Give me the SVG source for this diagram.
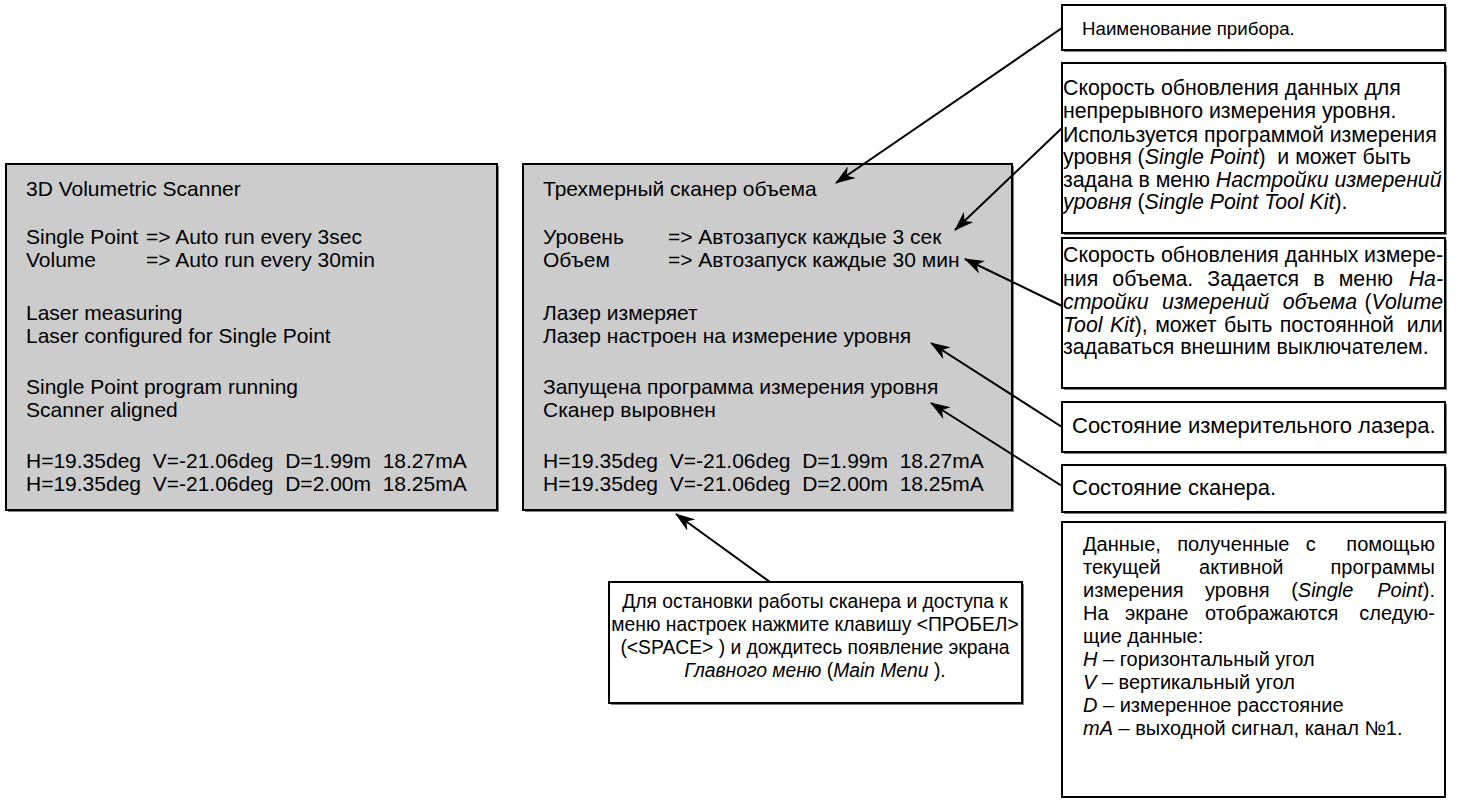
<svg xmlns="http://www.w3.org/2000/svg" width="1459" height="805" viewBox="0 0 1459 805">
<defs>
<style>
text{font-family:"Liberation Sans",Arial,sans-serif;fill:#000;}
.scr{font-size:21px;}
.ann{font-size:18.7px;}
.a2{font-size:21.3px;}
.a4{font-size:22px;}
.a6{font-size:20px;}
.a7{font-size:19.3px;}
.it{font-style:italic;}
.screen{fill:#cccccc;stroke:#000;stroke-width:2;}
.box{fill:#fff;stroke:#000;stroke-width:2;}
.sh{fill:#808080;}
.conn{stroke:#000;stroke-width:2;fill:none;marker-end:url(#arr);}
</style>
<marker id="arr" viewBox="0 0 20 14" refX="19" refY="7" markerWidth="20" markerHeight="14" markerUnits="userSpaceOnUse" orient="auto">
<path d="M0,0 L20,7 L0,14 L6,7 z" fill="#000"/>
</marker>
</defs>
<rect width="1459" height="805" fill="#fff"/>

<g id="screen-en">
<rect class="sh" x="8" y="166" width="491" height="346"/>
<rect class="screen" x="6" y="164" width="491" height="346"/>
<text class="scr" xml:space="preserve"><tspan x="26" y="196">3D Volumetric Scanner</tspan><tspan x="26" y="244">Single Point</tspan><tspan x="146" y="244">=&gt; Auto run every 3sec</tspan><tspan x="26" y="267">Volume</tspan><tspan x="146" y="267">=&gt; Auto run every 30min</tspan><tspan x="26" y="320">Laser measuring</tspan><tspan x="26" y="343">Laser configured for Single Point</tspan><tspan x="26" y="394">Single Point program running</tspan><tspan x="26" y="417">Scanner aligned</tspan><tspan x="26" y="468">H=19.35deg  V=-21.06deg  D=1.99m  18.27mA</tspan><tspan x="26" y="491">H=19.35deg  V=-21.06deg  D=2.00m  18.25mA</tspan></text>
</g>

<g id="screen-ru">
<rect class="sh" x="525" y="166" width="489" height="346"/>
<rect class="screen" x="523" y="164" width="489" height="346"/>
<text class="scr" xml:space="preserve"><tspan x="543" y="196">Трехмерный сканер объема</tspan><tspan x="543" y="244">Уровень</tspan><tspan x="668" y="244">=&gt; Автозапуск каждые 3 сек</tspan><tspan x="543" y="267">Объем</tspan><tspan x="668" y="267">=&gt; Автозапуск каждые 30 мин</tspan><tspan x="543" y="320">Лазер измеряет</tspan><tspan x="543" y="343">Лазер настроен на измерение уровня</tspan><tspan x="543" y="394">Запущена программа измерения уровня</tspan><tspan x="543" y="417">Сканер выровнен</tspan><tspan x="543" y="468">H=19.35deg  V=-21.06deg  D=1.99m  18.27mA</tspan><tspan x="543" y="491">H=19.35deg  V=-21.06deg  D=2.00m  18.25mA</tspan></text>
</g>

<g id="note-name">
<rect class="sh" x="1064" y="7" width="383" height="45"/>
<rect class="box" x="1062" y="5" width="383" height="45"/>
<text class="ann" x="1082" y="35">Наименование прибора.</text>
</g>

<g id="note-level-rate">
<rect class="sh" x="1064" y="65" width="383" height="170"/>
<rect class="box" x="1062" y="63" width="383" height="170"/>
<text class="a2" xml:space="preserve"><tspan x="1063" y="95">Скорость обновления данных для</tspan><tspan x="1063" y="118">непрерывного измерения уровня.</tspan><tspan x="1063" y="142">Используется программой измерения</tspan><tspan x="1063" y="164">уровня (<tspan class="it">Single Point</tspan>)  и может быть</tspan><tspan x="1063" y="187">задана в меню <tspan class="it">Настройки измерений</tspan></tspan><tspan x="1063" y="209"><tspan class="it">уровня</tspan> (<tspan class="it">Single Point Tool Kit</tspan>).</tspan></text>
</g>

<g id="note-volume-rate">
<rect class="sh" x="1064" y="240" width="383" height="150"/>
<rect class="box" x="1062" y="238" width="383" height="150"/>
<text class="a2"><tspan x="1063" y="262">Скорость обновления данных</tspan><tspan x="1443" y="262" text-anchor="end">измере-</tspan><tspan x="1063" y="286" word-spacing="8.2">ния объема. Задается в меню</tspan><tspan x="1443" y="286" text-anchor="end" class="it">На-</tspan><tspan x="1063" y="309" word-spacing="7.6" class="it">стройки измерений объема</tspan><tspan x="1443" y="309" text-anchor="end">(<tspan class="it">Volume</tspan></tspan><tspan x="1063" y="332" word-spacing="1.5"><tspan class="it">Tool Kit</tspan>), может быть постоянной</tspan><tspan x="1443" y="332" text-anchor="end">или</tspan><tspan x="1063" y="354">задаваться внешним выключателем.</tspan></text>
</g>

<g id="note-laser">
<rect class="sh" x="1064" y="404" width="383" height="50"/>
<rect class="box" x="1062" y="402" width="383" height="50"/>
<text class="a4" x="1072" y="433">Состояние измерительного лазера.</text>
</g>

<g id="note-scanner">
<rect class="sh" x="1064" y="467" width="383" height="47"/>
<rect class="box" x="1062" y="465" width="383" height="47"/>
<text class="a4" x="1072" y="495">Состояние сканера.</text>
</g>

<g id="note-data">
<rect class="box" x="1062" y="522" width="383" height="275"/>
<text class="a6"><tspan x="1083" y="551" word-spacing="10.8">Данные, полученные с</tspan><tspan x="1435" y="551" text-anchor="end">помощью</tspan><tspan x="1083" y="574" word-spacing="33">текущей активной</tspan><tspan x="1435" y="574" text-anchor="end">программы</tspan><tspan x="1083" y="597" word-spacing="16">измерения уровня (<tspan class="it">Single</tspan></tspan><tspan x="1435" y="597" text-anchor="end"><tspan class="it">Point</tspan>).</tspan><tspan x="1083" y="620" word-spacing="11">На экране отображаются</tspan><tspan x="1435" y="620" text-anchor="end">следую-</tspan><tspan x="1083" y="643">щие данные:</tspan><tspan x="1083" y="666"><tspan class="it">H</tspan> – горизонтальный угол</tspan><tspan x="1083" y="689"><tspan class="it">V</tspan> – вертикальный угол</tspan><tspan x="1083" y="712"><tspan class="it">D</tspan> – измеренное расстояние</tspan><tspan x="1083" y="735"><tspan class="it">mA</tspan> – выходной сигнал, канал №1.</tspan></text>
</g>

<g id="note-space">
<rect class="sh" x="611" y="584" width="413" height="121"/>
<rect class="box" x="609" y="582" width="413" height="121"/>
<text class="a7" text-anchor="middle"><tspan x="815" y="608">Для остановки работы сканера и доступа к</tspan><tspan x="815" y="631">меню настроек нажмите клавишу &lt;ПРОБЕЛ&gt;</tspan><tspan x="815" y="654">(&lt;SPACE&gt; ) и дождитесь появление экрана</tspan><tspan x="815" y="677"><tspan class="it">Главного меню</tspan> (<tspan class="it">Main Menu</tspan> ).</tspan></text>
</g>

<g id="connectors">
<line class="conn" x1="1062" y1="28" x2="836" y2="183"/>
<line class="conn" x1="1062" y1="128" x2="955" y2="230"/>
<line class="conn" x1="1062" y1="306" x2="965" y2="259"/>
<line class="conn" x1="1062" y1="427" x2="931" y2="343"/>
<line class="conn" x1="1062" y1="486" x2="931" y2="403"/>
<line class="conn" x1="770" y1="582" x2="676" y2="514"/>
</g>
</svg>
